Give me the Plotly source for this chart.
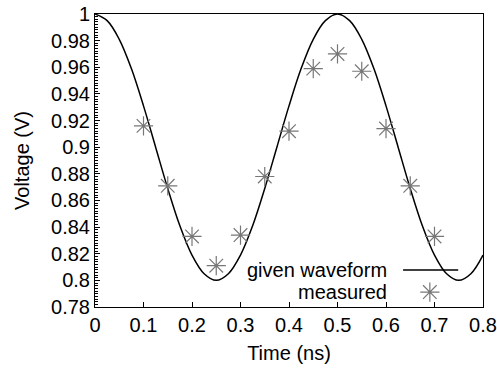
import plotly.graph_objects as go

# given waveform
t_wave = [0.000, 0.025, 0.050, 0.075, 0.100, 0.125, 0.150, 0.175, 0.200, 0.225,
          0.250, 0.275, 0.300, 0.325, 0.350, 0.375, 0.400, 0.425, 0.450, 0.475,
          0.500, 0.525, 0.550, 0.575, 0.600, 0.625, 0.650, 0.675, 0.700, 0.725,
          0.750, 0.775, 0.800]
v_wave = [1.000, 0.995, 0.981, 0.959, 0.931, 0.900, 0.869, 0.841, 0.819, 0.805,
          0.800, 0.805, 0.819, 0.841, 0.869, 0.900, 0.931, 0.959, 0.981, 0.995,
          1.000, 0.995, 0.981, 0.959, 0.931, 0.900, 0.869, 0.841, 0.819, 0.805,
          0.800, 0.805, 0.819]

# measured points
t_meas = [0.10, 0.15, 0.20, 0.25, 0.30, 0.35, 0.40, 0.45, 0.50, 0.55, 0.60, 0.65, 0.70]
v_meas = [0.916, 0.871, 0.833, 0.811, 0.834, 0.878, 0.912, 0.959, 0.970, 0.957, 0.914, 0.871, 0.833]

x_ticks = [0, 0.1, 0.2, 0.3, 0.4, 0.5, 0.6, 0.7, 0.8]
x_labels = ["0", "0.1", "0.2", "0.3", "0.4", "0.5", "0.6", "0.7", "0.8"]
y_ticks = [0.78, 0.80, 0.82, 0.84, 0.86, 0.88, 0.90, 0.92, 0.94, 0.96, 0.98, 1.00]
y_labels = ["0.78", "0.8", "0.82", "0.84", "0.86", "0.88", "0.9", "0.92", "0.94", "0.96", "0.98", "1"]

FONT = "Liberation Sans"
MARK_COLOR = "#777777"
FS = 20

fig = go.Figure()
fig.add_trace(go.Scatter(x=t_wave, y=v_wave, mode="lines", line=dict(color="black", width=1.5, shape="spline"),
                         showlegend=False, hoverinfo="skip"))
fig.add_trace(go.Scatter(x=t_meas, y=v_meas, mode="markers",
                         marker=dict(symbol="asterisk-open", size=16, color=MARK_COLOR,
                                     line=dict(color=MARK_COLOR, width=1.2)),
                         showlegend=False))

# legend drawn manually (sample on the right of right-aligned text)
fig.add_trace(go.Scatter(x=[0.863], y=[0.051], xaxis="x2", yaxis="y2", mode="markers",
                         marker=dict(symbol="asterisk-open", size=16, color=MARK_COLOR,
                                     line=dict(color=MARK_COLOR, width=1.2)),
                         showlegend=False, hoverinfo="skip"))
fig.add_shape(type="line", xref="paper", yref="paper", x0=0.794, x1=0.936, y0=0.126, y1=0.126,
              line=dict(color="black", width=1.5))
fig.add_annotation(text="given waveform", xref="paper", yref="paper", x=0.757, y=0.126,
                   xanchor="right", yanchor="middle", showarrow=False,
                   font=dict(family=FONT, size=FS, color="black"))
fig.add_annotation(text="measured", xref="paper", yref="paper", x=0.757, y=0.051,
                   xanchor="right", yanchor="middle", showarrow=False,
                   font=dict(family=FONT, size=FS, color="black"))

fig.update_layout(
    width=497, height=371,
    margin=dict(l=95, r=14, t=14, b=64, autoexpand=False),
    paper_bgcolor="white", plot_bgcolor="white",
    font=dict(family=FONT, size=FS, color="black"),
    xaxis=dict(range=[0, 0.8], tickvals=x_ticks, ticktext=x_labels, ticks="inside", ticklen=5,
               tickcolor="black", showline=True, linecolor="black", linewidth=1, mirror=True,
               showgrid=False, zeroline=False, automargin=False,
               title=dict(text="Time (ns)", standoff=10, font=dict(size=FS))),
    yaxis=dict(range=[0.78, 1.0], tickvals=y_ticks, ticktext=y_labels, ticks="inside", ticklen=5,
               tickcolor="black", showline=True, linecolor="black", linewidth=1, mirror=True,
               showgrid=False, zeroline=False, automargin=False,
               minor=dict(dtick=0.002, ticks="inside", ticklen=3, tickcolor="black", showgrid=False),
               title=dict(text="Voltage (V)", standoff=16, font=dict(size=FS))),
    xaxis2=dict(range=[0, 1], overlaying="x", visible=False, fixedrange=True),
    yaxis2=dict(range=[0, 1], overlaying="y", visible=False, fixedrange=True),
)

fig.write_html("out.html", config={"displayModeBar": False},
               post_script="document.body.style.margin='0';document.body.style.overflow='hidden';")
